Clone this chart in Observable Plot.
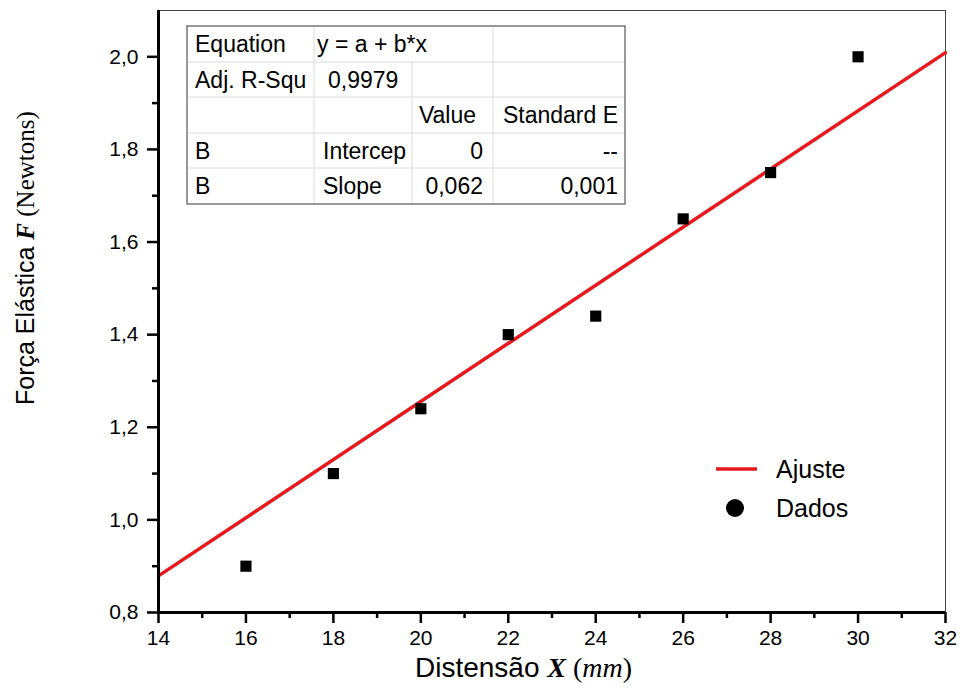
<!DOCTYPE html>
<html>
<head>
<meta charset="utf-8">
<script src="https://cdn.jsdelivr.net/npm/d3@7"></script>
<script src="https://cdn.jsdelivr.net/npm/@observablehq/plot@0.6"></script>
<style>
  body { margin: 0; background: #fff; }
  #chart { width: 962px; height: 689px; }
</style>
</head>
<body>
<div id="chart"></div>
<script>
// Data
const distensao = [16, 18, 20, 22, 24, 26, 28, 30];
const forca = [0.90, 1.10, 1.24, 1.40, 1.44, 1.65, 1.75, 2.00];
// linear fit (y = b*x, b ≈ 0.0628) endpoints over the axis range
const fitX = [14, 32];
const fitY = [0.879, 2.009];

const xMajor = [14, 16, 18, 20, 22, 24, 26, 28, 30, 32];
const xMinor = [15, 17, 19, 21, 23, 25, 27, 29, 31];
const yMajor = [0.8, 1.0, 1.2, 1.4, 1.6, 1.8, 2.0];
const yMinor = [0.9, 1.1, 1.3, 1.5, 1.7, 1.9];

const tableRows = [
  ["Equation", "y = a + b*x", "", ""],
  ["Adj. R-Squ", "0,9979", "", ""],
  ["", "", "Value", "Standard E"],
  ["B", "Intercep", "0", "--"],
  ["B", "Slope", "0,062", "0,001"]
];
const legendLabels = ["Ajuste", "Dados"];

const points = distensao.map((x, i) => ({x, y: forca[i]}));
const fit = fitX.map((x, i) => ({x, y: fitY[i]}));
const fmtY = d => d.toFixed(1).replace(".", ",");
const SANS = "'Liberation Sans', Arial, sans-serif";
const SERIF = "'Liberation Serif', 'Times New Roman', serif";

const plot = Plot.plot({
  width: 962,
  height: 689,
  marginLeft: 158,
  marginRight: 17,
  marginTop: 10,
  marginBottom: 77,
  x: {domain: [14, 32]},
  y: {domain: [0.8, 2.1]},
  style: {fontFamily: SANS, fontSize: "21px", color: "#000", background: "#fff", overflow: "visible"},
  marks: [
    Plot.frame({stroke: "#444", strokeWidth: 1}),
    Plot.line(fit, {x: "x", y: "y", stroke: "#e8191c", strokeWidth: 3.5}),
    Plot.dot(points, {x: "x", y: "y", symbol: "square", r: 6.3, fill: "#000", stroke: "none"}),
    Plot.ruleX([14], {stroke: "#000", strokeWidth: 3}),
    Plot.ruleY([0.8], {stroke: "#000", strokeWidth: 3}),
    Plot.axisX(xMinor, {tickSize: 6, tickFormat: () => "", strokeWidth: 2.5, label: null}),
    Plot.axisX(xMajor, {tickSize: 11, tickPadding: 7, strokeWidth: 2.5, label: null, tickFormat: d => String(d)}),
    Plot.axisY(yMinor, {tickSize: 6, tickFormat: () => "", strokeWidth: 2.5, label: null}),
    Plot.axisY(yMajor, {tickSize: 11, tickPadding: 9, strokeWidth: 2.5, label: null, tickFormat: fmtY})
  ]
});
document.getElementById("chart").appendChild(plot);

const svg = d3.select(plot);

// Axis titles with mixed fonts
const xt = svg.append("text").attr("x", 415).attr("y", 677).attr("text-anchor", "start")
  .style("font-family", SANS).style("font-size", "28px").attr("fill", "#000");
xt.append("tspan").text("Distensão ");
xt.append("tspan").style("font-family", SERIF).style("font-weight", "bold").style("font-style", "italic").text("X");
xt.append("tspan").style("font-family", SERIF).text(" (");
xt.append("tspan").style("font-family", SERIF).style("font-style", "italic").text("mm");
xt.append("tspan").style("font-family", SERIF).text(")");

const yt = svg.append("text").attr("transform", "translate(34,405) rotate(-90)").attr("text-anchor", "start")
  .style("font-family", SANS).style("font-size", "25px").attr("fill", "#000");
yt.append("tspan").text("Força Elástica ");
yt.append("tspan").style("font-family", SERIF).style("font-weight", "bold").style("font-style", "italic").text("F");
yt.append("tspan").style("font-family", SERIF).text(" (Newtons)");

// Results table
const colEdges = [187, 314, 412, 493, 625];
const rowEdges = [26, 62, 97, 133, 168, 204];
const tg = svg.append("g").style("font-family", SANS).style("font-size", "23px").attr("fill", "#000");
tg.append("rect").attr("x", colEdges[0]).attr("y", rowEdges[0])
  .attr("width", colEdges[4] - colEdges[0]).attr("height", rowEdges[5] - rowEdges[0])
  .attr("fill", "#fff");
for (let r = 1; r < 5; r++) {
  tg.append("line").attr("x1", colEdges[0]).attr("x2", colEdges[4])
    .attr("y1", rowEdges[r]).attr("y2", rowEdges[r]).attr("stroke", "#dcdcdc").attr("stroke-width", 1);
}
[1, 3].forEach(c => tg.append("line").attr("x1", colEdges[c]).attr("x2", colEdges[c])
  .attr("y1", rowEdges[0]).attr("y2", rowEdges[5]).attr("stroke", "#dcdcdc"));
tg.append("line").attr("x1", colEdges[2]).attr("x2", colEdges[2])
  .attr("y1", rowEdges[1]).attr("y2", rowEdges[5]).attr("stroke", "#dcdcdc");
tg.append("rect").attr("x", colEdges[0]).attr("y", rowEdges[0])
  .attr("width", colEdges[4] - colEdges[0]).attr("height", rowEdges[5] - rowEdges[0])
  .attr("fill", "none").attr("stroke", "#555").attr("stroke-width", 1.2);
tableRows.forEach((row, r) => {
  const base = (rowEdges[r] + rowEdges[r + 1]) / 2 + 8;
  row.forEach((cell, c) => {
    if (!cell) return;
    const right = c >= 2;
    let x;
    if (right) {
      const pad = (cell === "Value") ? 17 : (c === 3 ? 7 : 10);
      x = colEdges[c + 1] - pad;
    } else {
      let pad = c === 0 ? 8 : 9;
      if (r === 0 && c === 1) pad = 3;
      if (r === 1 && c === 1) pad = 14;
      x = colEdges[c] + pad;
    }
    tg.append("text").attr("x", x).attr("y", base)
      .attr("text-anchor", right ? "end" : "start").text(cell);
  });
});

// Legend
const lg = svg.append("g").style("font-family", SANS).style("font-size", "25px").attr("fill", "#000");
lg.append("line").attr("x1", 716).attr("x2", 757).attr("y1", 469).attr("y2", 469)
  .attr("stroke", "#e8191c").attr("stroke-width", 3.5);
lg.append("text").attr("x", 776).attr("y", 478).attr("text-anchor", "start").text(legendLabels[0]);
lg.append("circle").attr("cx", 735).attr("cy", 508).attr("r", 9).attr("fill", "#000");
lg.append("text").attr("x", 776).attr("y", 517).attr("text-anchor", "start").text(legendLabels[1]);
</script>
</body>
</html>
